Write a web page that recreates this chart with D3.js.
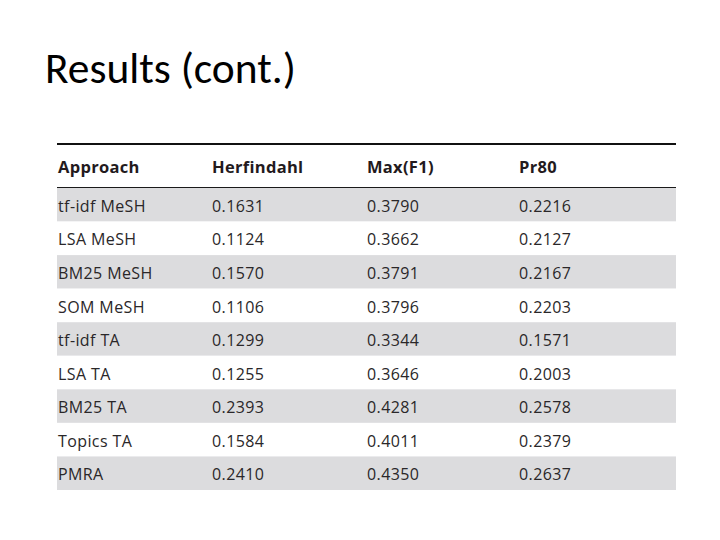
<!doctype html>
<html lang="en">
<head>
<meta charset="utf-8">
<title>Results (cont.)</title>
<style>
  body { margin: 0; background: #fff; }
</style>
</head>
<body>
<div id="container"></div>
<script src="https://d3js.org/d3.v7.min.js"></script>
<script>
const width = 720;
const height = 540;

// table data
const headers = ["Approach", "Herfindahl", "Max(F1)", "Pr80"];
const approaches = ["tf-idf MeSH", "LSA MeSH", "BM25 MeSH", "SOM MeSH", "tf-idf TA", "LSA TA", "BM25 TA", "Topics TA", "PMRA"];
const herfindahl = ["0.1631", "0.1124", "0.1570", "0.1106", "0.1299", "0.1255", "0.2393", "0.1584", "0.2410"];
const maxF1 = ["0.3790", "0.3662", "0.3791", "0.3796", "0.3344", "0.3646", "0.4281", "0.4011", "0.4350"];
const pr80 = ["0.2216", "0.2127", "0.2167", "0.2203", "0.1571", "0.2003", "0.2578", "0.2379", "0.2637"];

const rows = approaches.map((a, i) => [a, herfindahl[i], maxF1[i], pr80[i]]);

const svg = d3.select("#container").append("svg")
    .attr("width", width)
    .attr("height", height)
    .attr("viewBox", "0 0 " + width + " " + height);

// slide title (Calibri-like)
const title = svg.append("text")
    .attr("x", 45)
    .attr("y", 83)
    .attr("font-family", "Carlito, Calibri, Lato, sans-serif")
    .attr("font-size", 38)
    .attr("fill", "#000")
    .text("Results (cont.)");
// scale the font so the title spans like the original (~251px)
const tw = title.node().getComputedTextLength();
title.attr("font-size", 38 * 251 / tw);

const left = 57, right = 676;
const topLine = 144, headBottom = 188, tableBottom = 490;

const x = d3.scaleOrdinal()
    .domain(headers)
    .range([58, 212, 367, 519]);

const y = d3.scaleBand()
    .domain(d3.range(rows.length))
    .range([headBottom, tableBottom])
    .padding(0);

// striped rows
svg.selectAll("rect.stripe")
    .data(rows)
    .enter()
    .append("rect")
    .attr("class", "stripe")
    .attr("x", left)
    .attr("width", right - left)
    .attr("y", (d, i) => y(i))
    .attr("height", y.bandwidth())
    .attr("fill", (d, i) => i % 2 === 0 ? "#dcdcde" : "#fff");

// rules
svg.append("line")
    .attr("x1", left).attr("x2", right)
    .attr("y1", topLine).attr("y2", topLine)
    .attr("stroke", "#111").attr("stroke-width", 2);
svg.append("line")
    .attr("x1", left).attr("x2", right)
    .attr("y1", headBottom - 0.5).attr("y2", headBottom - 0.5)
    .attr("stroke", "#1a1a1a").attr("stroke-width", 1);

// header
svg.selectAll("text.head")
    .data(headers)
    .enter()
    .append("text")
    .attr("class", "head")
    .attr("x", d => x(d))
    .attr("y", (topLine + headBottom) / 2 + 1)
    .attr("dy", "0.35em")
    .attr("font-family", "'Open Sans', sans-serif")
    .attr("font-weight", "bold")
    .attr("font-size", 16.5)
    .attr("letter-spacing", 0.3)
    .attr("fill", "#231a1d")
    .text(d => d);

// body cells
const rowG = svg.selectAll("g.row")
    .data(rows)
    .enter()
    .append("g")
    .attr("class", "row")
    .attr("transform", (d, i) => "translate(0," + (y(i) + y.bandwidth() / 2 + 1.5) + ")");

rowG.selectAll("text")
    .data(d => d.map((v, j) => ({col: headers[j], v: v})))
    .enter()
    .append("text")
    .attr("x", d => x(d.col))
    .attr("dy", "0.35em")
    .attr("font-family", "'Open Sans', sans-serif")
    .attr("font-size", 16)
    .attr("letter-spacing", 0.4)
    .attr("fill", "#2a2729")
    .text(d => d.v);
</script>
</body>
</html>
